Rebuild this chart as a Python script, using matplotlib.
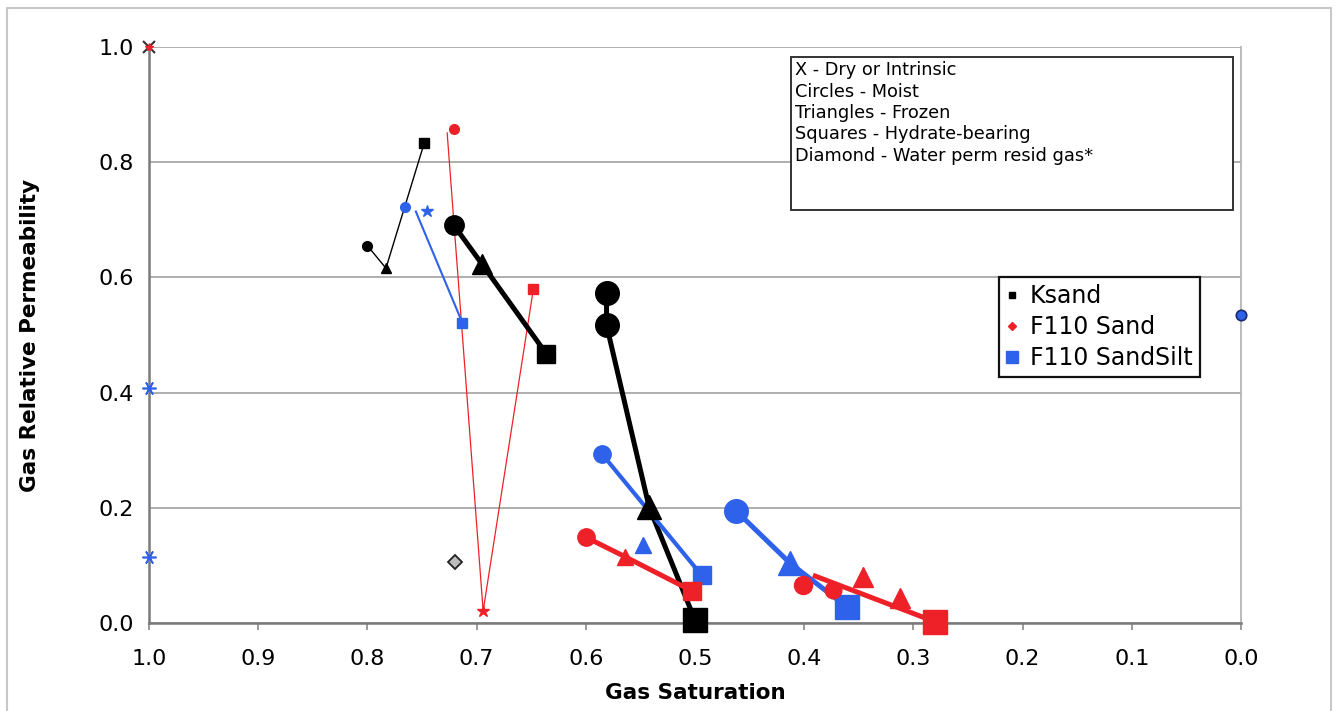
import matplotlib.pyplot as plt
from matplotlib.lines import Line2D
from matplotlib.patches import Rectangle

# ---- data ----
# thin-line series (first test set)
ks1_sat = [0.800, 0.783, 0.748]
ks1_krg = [0.655, 0.616, 0.833]
sd1_sat = [0.721, 0.694, 0.648]
sd1_krg = [0.858, 0.021, 0.580]
sd1_line_sat = [0.727, 0.694, 0.648]
sd1_line_krg = [0.852, 0.021, 0.580]
ss1_sat = [0.766, 0.745, 0.713]
ss1_krg = [0.722, 0.715, 0.521]
ss1_line_sat = [0.756, 0.713]
ss1_line_krg = [0.716, 0.521]

# thick-line series
ks2_sat = [0.721, 0.695, 0.636]
ks2_krg = [0.691, 0.623, 0.467]
ks3_sat = [0.581, 0.581, 0.542, 0.500]
ks3_krg = [0.573, 0.517, 0.201, 0.005]
ss2_sat = [0.585, 0.548, 0.494]
ss2_krg = [0.293, 0.135, 0.083]
sd2_sat = [0.600, 0.564, 0.503]
sd2_krg = [0.149, 0.115, 0.056]
ss3_sat = [0.462, 0.413, 0.361]
ss3_krg = [0.194, 0.104, 0.028]
sd3_sat = [0.401, 0.374, 0.346, 0.312, 0.280]
sd3_krg = [0.066, 0.057, 0.080, 0.043, 0.002]
sd3_line_sat = [0.392, 0.280]
sd3_line_krg = [0.083, 0.002]

# dry / intrinsic points and others
dry_blue_sat = [1.0, 1.0]
dry_blue_krg = [0.408, 0.115]
dry_red_sat = [1.0]
dry_red_krg = [1.0]
diamond_sat = [0.720]
diamond_krg = [0.106]
water_sat = [0.0]
water_krg = [0.535]

legend_labels = ['Ksand', 'F110 Sand', 'F110 SandSilt']
note_lines = ['X - Dry or Intrinsic', 'Circles - Moist', 'Triangles - Frozen',
              'Squares - Hydrate-bearing', 'Diamond - Water perm resid gas*']

BLACK = '#000000'
RED = '#ee2129'
BLUE = '#2f62ea'

plt.rcParams['font.family'] = ['DejaVu Sans']

fig = plt.figure(figsize=(13.41, 7.11), dpi=100)
ax = fig.add_axes([149 / 1341, 88 / 711, 1092 / 1341, 576 / 711])


def draw(sat, krg, color, markers, sizes, lw, line=True, line_sat=None, line_krg=None):
    if line:
        lx = sat if line_sat is None else line_sat
        ly = krg if line_krg is None else line_krg
        ax.plot(lx, ly, color=color, lw=lw, zorder=3, solid_capstyle='butt')
    for x, y, m, s in zip(sat, krg, markers, sizes):
        ax.plot([x], [y], marker=m, ms=s, color=color, mec=color, ls='none',
                zorder=4, clip_on=False)


# thin series
draw(ks1_sat, ks1_krg, BLACK, ['o', '^', 's'], [7, 7, 7], 1.0)
draw(sd1_sat, sd1_krg, RED, ['o', '*', 's'], [7, 9, 7], 0.9,
     line_sat=sd1_line_sat, line_krg=sd1_line_krg)
draw(ss1_sat, ss1_krg, BLUE, ['o', '*', 's'], [7, 9, 7], 1.5,
     line_sat=ss1_line_sat, line_krg=ss1_line_krg)

# thick series
draw(ks2_sat, ks2_krg, BLACK, ['o', '^', 's'], [14, 14, 13], 3.6)
draw(ks3_sat, ks3_krg, BLACK, ['o', 'o', '^', 's'], [17, 17, 17, 17], 3.6)
draw(ss2_sat[:1] + ss2_sat[2:], ss2_krg[:1] + ss2_krg[2:], BLUE, ['o', 's'], [12.5, 13], 3.0)
draw(ss2_sat[1:2], ss2_krg[1:2], BLUE, ['^'], [12], 0, line=False)
draw(sd2_sat, sd2_krg, RED, ['o', '^', 's'], [12.5, 12, 13], 3.6)
draw(ss3_sat, ss3_krg, BLUE, ['o', '^', 's'], [17, 17, 17], 3.6)
draw(sd3_sat, sd3_krg, RED, ['o', 'o', '^', '^', 's'], [13, 12, 14, 14, 17], 3.6,
     line_sat=sd3_line_sat, line_krg=sd3_line_krg)

# dry / intrinsic
ax.plot(dry_blue_sat, dry_blue_krg, ls='none', marker=(6, 2, 90), ms=10, mew=1.2,
        color=BLUE, zorder=4, clip_on=False)
ax.plot(dry_red_sat, dry_red_krg, ls='none', marker='x', ms=9, mew=1.5,
        color='#333333', zorder=4, clip_on=False)
ax.plot(dry_red_sat, dry_red_krg, ls='none', marker='*', ms=6,
        color=RED, zorder=5, clip_on=False)
ax.plot(diamond_sat, diamond_krg, ls='none', marker='D', ms=7.5, mfc='#bdbdbd',
        mec='#222222', mew=1.3, zorder=4, clip_on=False)
ax.plot(water_sat, water_krg, ls='none', marker='o', ms=7.5, mfc=BLUE,
        mec='#1a2a6a', mew=1.2, zorder=4, clip_on=False)

# axes
ax.set_xlim(1.0, 0.0)
ax.set_ylim(0.0, 1.0)
ax.set_xticks([1.0, 0.9, 0.8, 0.7, 0.6, 0.5, 0.4, 0.3, 0.2, 0.1, 0.0])
ax.set_yticks([0.0, 0.2, 0.4, 0.6, 0.8, 1.0])
ax.xaxis.set_major_formatter(plt.FormatStrFormatter('%.1f'))
ax.yaxis.set_major_formatter(plt.FormatStrFormatter('%.1f'))
ax.tick_params(axis='x', direction='out', length=5, width=1.2, color='#8a8a8a',
               pad=14, labelsize=16)
ax.tick_params(axis='y', length=0, pad=11, labelsize=16)
ax.grid(axis='y', color='#a8a8a8', lw=1.3, zorder=0)
ax.set_axisbelow(True)
for side in ['left', 'bottom']:
    ax.spines[side].set_color('#7a7a7a')
    ax.spines[side].set_linewidth(1.8)
ax.spines['right'].set_color('#b5b5b5')
ax.spines['right'].set_linewidth(1.3)
ax.spines['top'].set_visible(False)

ax.set_xlabel('Gas Saturation', fontsize=15.5, fontweight='bold', labelpad=10)
ax.set_ylabel('Gas Relative Permeability', fontsize=15.5, fontweight='bold', labelpad=42)

# notes box
ax.add_patch(Rectangle((0.588, 0.717), 0.4047, 0.266, transform=ax.transAxes,
                       fill=False, ec='#333333', lw=1.4, zorder=6, clip_on=False))
ax.add_patch(Rectangle((0.588, 0.717), 0.4047, 0.266, transform=ax.transAxes,
                       fc='white', ec='none', zorder=5, clip_on=False))
ax.text(0.5916, 0.975, '\n'.join(note_lines), transform=ax.transAxes, fontsize=12.8,
        va='top', ha='left', linespacing=1.24, zorder=7)

# legend
handles = [Line2D([], [], ls='none', marker='s', ms=5, color=BLACK),
           Line2D([], [], ls='none', marker='D', ms=4, color=RED),
           Line2D([], [], ls='none', marker='s', ms=8, color=BLUE)]
leg = ax.legend(handles, legend_labels, loc='upper left', bbox_to_anchor=(0.7785, 0.601),
                borderaxespad=0, fancybox=False, framealpha=1, edgecolor='#111111',
                fontsize=17, handlelength=0.5, handletextpad=0.5, labelspacing=0.3,
                borderpad=0.3)
leg.get_frame().set_linewidth(1.6)
leg.set_zorder(8)

# outer frame
fig.patches.append(Rectangle((7 / 1341, -0.05), 1324 / 1341, 1.05 - 8 / 711,
                             transform=fig.transFigure, fill=False, ec='#c8c8c8', lw=1.5))

fig.savefig('out.png', dpi=100)
